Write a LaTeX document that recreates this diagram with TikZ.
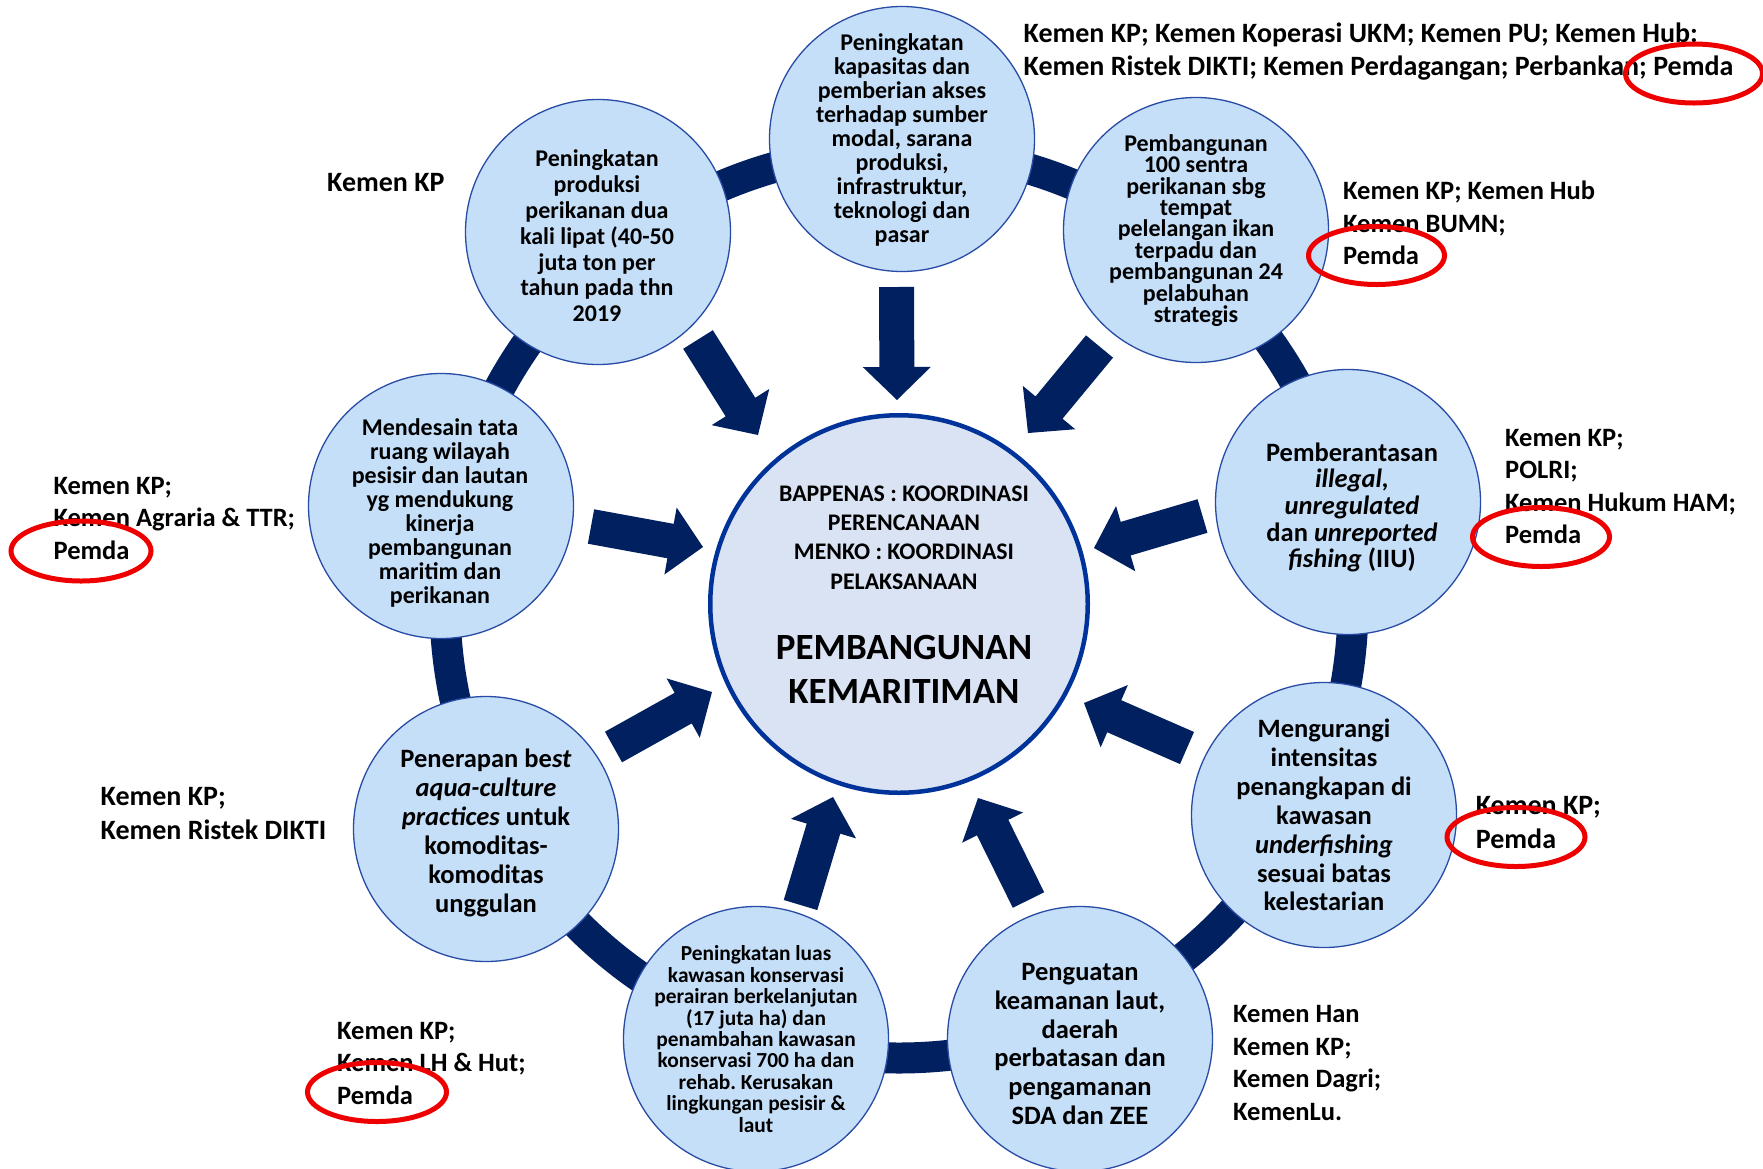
\documentclass[tikz,border=0pt]{standalone}
\usepackage{fontspec}
\setmainfont{Carlito}
\usetikzlibrary{calc}
\frenchspacing
\definecolor{navy}{RGB}{0,32,96}
\definecolor{cborder}{RGB}{0,51,153}
\definecolor{cfill}{RGB}{218,227,243}
\definecolor{ofill}{RGB}{197,223,249}
\definecolor{oborder}{RGB}{40,76,165}
\definecolor{markred}{RGB}{238,0,0}
\newcommand\fs[2]{\fontsize{#1}{#2}\selectfont}
\newcommand\blockarrow[3]{%
  \coordinate (#3) at ($(#2)!33pt!(#1)$);
  \fill[navy] ($(#1)!17.5pt!90:(#2)$) -- ($(#3)!17.5pt!-90:(#1)$) -- ($(#3)!34pt!-90:(#1)$) -- (#2)
    -- ($(#3)!34pt!90:(#1)$) -- ($(#3)!17.5pt!90:(#1)$) -- ($(#1)!17.5pt!-90:(#2)$) -- cycle;
}
\tikzset{
  outer/.style={circle, draw=oborder, line width=1.3pt, fill=ofill, minimum size=265pt, inner sep=0pt},
  ctext/.style={align=center, inner sep=0pt, font=\bfseries},
  lbl/.style={anchor=west, align=left, inner sep=0pt, font=\fs{26.5}{32.5}\bfseries},
  lblbig/.style={lbl, font=\fs{28}{33.5}\bfseries},
  redmark/.style={draw=markred, line width=5pt},
}
\begin{document}
\begin{tikzpicture}[x=1pt, y=-1pt]
\useasboundingbox (0,0) rectangle (1763,1168);
\fill[white] (0,0) rectangle (1763,1168);
\begin{scope}
\clip (0,0) rectangle (1763,1168);
% ring
\coordinate (ringc) at (899,604);
\draw[navy, line width=31pt] (ringc) circle[radius=454pt];
% outer circles
\node[outer] (c1) at (902,139) {};
\node[outer] (c2) at (598,232) {};
\node[outer] (c3) at (1196,230) {};
\node[outer] (c4) at (441,506) {};
\node[outer] (c5) at (1348,502) {};
\node[outer] (c6) at (486,829) {};
\node[outer] (c7) at (1324,815) {};
\node[outer] (c8) at (756,1039) {};
\node[outer] (c9) at (1080,1039) {};
% center
\node[circle, draw=cborder, line width=4.5pt, fill=cfill, minimum size=377.5pt, inner sep=0pt] (cc) at (899,604) {};
% arrows
\coordinate (t1) at (896.5,287);  \coordinate (h1) at (897,400);
\coordinate (t2) at (698,339.5);  \coordinate (h2) at (758,435);
\coordinate (t3) at (1099.5,346.5); \coordinate (h3) at (1028,433);
\coordinate (t4) at (591,526.5);  \coordinate (h4) at (703,547);
\coordinate (t5) at (1202.5,516); \coordinate (h5) at (1094,548);
\coordinate (t6) at (613.5,747);  \coordinate (h6) at (712,692);
\coordinate (t7) at (1187,748);   \coordinate (h7) at (1084,703);
\coordinate (t8) at (800.5,905);  \coordinate (h8) at (833,797);
\coordinate (t9) at (1028.5,900); \coordinate (h9) at (978,798);
\blockarrow{t1}{h1}{n1}
\blockarrow{t2}{h2}{n2}
\blockarrow{t3}{h3}{n3}
\blockarrow{t4}{h4}{n4}
\blockarrow{t5}{h5}{n5}
\blockarrow{t6}{h6}{n6}
\blockarrow{t7}{h7}{n7}
\blockarrow{t8}{h8}{n8}
\blockarrow{t9}{h9}{n9}
% circle texts
\node[ctext, font=\fs{24}{23.9}\bfseries] (c1t) at (902,140) {Peningkatan\\kapasitas dan\\pemberian akses\\terhadap sumber\\modal, sarana\\produksi,\\infrastruktur,\\teknologi dan\\pasar};
\node[ctext, font=\fs{24}{25.8}\bfseries] (c2t) at (597,236) {Peningkatan\\produksi\\perikanan dua\\kali lipat (40-50\\juta ton per\\tahun pada thn\\2019};
\node[ctext, font=\fs{24}{21.4}\bfseries] (c3t) at (1196,230.5) {Pembangunan\\100 sentra\\perikanan sbg\\tempat\\pelelangan ikan\\terpadu dan\\pembangunan 24\\pelabuhan\\strategis};
\node[ctext, font=\fs{24}{24.1}\bfseries] (c4t) at (440,513) {Mendesain tata\\ruang wilayah\\pesisir dan lautan\\yg mendukung\\kinerja\\pembangunan\\maritim dan\\perikanan};
\node[ctext, font=\fs{26.5}{26.6}\bfseries] (c5t) at (1352,507.5) {Pemberantasan\\\textit{illegal,}\\\textit{unregulated}\\dan \textit{unreported}\\\textit{fishing} (IIU)};
\node[ctext, font=\fs{26.5}{29}\bfseries] (c6t) at (486,832.5) {Penerapan be\textit{st}\\\textit{aqua-culture}\\\textit{practices} untuk\\komoditas-\\komoditas\\unggulan};
\node[ctext, font=\fs{26.5}{28.9}\bfseries] (c7t) at (1324,815) {Mengurangi\\intensitas\\penangkapan di\\kawasan\\\textit{underfishing}\\sesuai batas\\kelestarian};
\node[ctext, font=\fs{21.4}{21.4}\bfseries] (c8t) at (756,1039) {Peningkatan luas\\kawasan konservasi\\perairan berkelanjutan\\(17 juta ha) dan\\penambahan kawasan\\konservasi 700 ha dan\\rehab. Kerusakan\\lingkungan pesisir \&\\laut};
\node[ctext, font=\fs{26.5}{28.7}\bfseries] (c9t) at (1080,1044) {Penguatan\\keamanan laut,\\daerah\\perbatasan dan\\pengamanan\\SDA dan ZEE};
% center texts
\node[ctext, font=\fs{23.8}{29.2}\bfseries] (cct1) at (904,537.5) {BAPPENAS : KOORDINASI\\PERENCANAAN\\MENKO : KOORDINASI\\PELAKSANAAN};
\node[ctext, font=\fs{37}{43.8}\bfseries] (cct2) at (904,669.5) {PEMBANGUNAN\\KEMARITIMAN};
% side labels
\node[lblbig] (l1) at (1023.5,51.5) {Kemen KP; Kemen Koperasi UKM; Kemen PU; Kemen Hub:\\Kemen Ristek DIKTI; Kemen Perdagangan; Perbankan; Pemda};
\node[lblbig] (l2) at (327,183) {Kemen KP};
\node[lbl] (l3) at (1343,223) {Kemen KP; Kemen Hub\\Kemen BUMN;\\Pemda};
\node[lbl] (l4) at (1505,486.5) {Kemen KP;\\POLRI;\\Kemen Hukum HAM;\\Pemda};
\node[lbl] (l5) at (53.4,518) {Kemen KP;\\Kemen Agraria \& TTR;\\Pemda};
\node[lblbig] (l6) at (100.5,813.5) {Kemen KP;\\Kemen Ristek DIKTI};
\node[lblbig] (l7) at (1475.7,822.5) {Kemen KP;\\Pemda};
\node[lbl] (l8) at (337,1063) {Kemen KP;\\Kemen LH \& Hut;\\Pemda};
\node[lbl] (l9) at (1233,1063) {Kemen Han\\Kemen KP;\\Kemen Dagri;\\KemenLu.};
% red marks
\draw[redmark] (1694,73.5) ellipse [x radius=68.5pt, y radius=29.5pt];
\draw[redmark] (1376.5,255.5) ellipse [x radius=68pt, y radius=29pt];
\draw[redmark] (1541,537) ellipse [x radius=68.5pt, y radius=29.5pt];
\draw[redmark] (81,551) ellipse [x radius=70pt, y radius=30pt];
\draw[redmark] (1516,837) ellipse [x radius=69pt, y radius=29.5pt];
\draw[redmark] (377,1092) ellipse [x radius=69.5pt, y radius=29.5pt];
\end{scope}
\end{tikzpicture}
\end{document}
